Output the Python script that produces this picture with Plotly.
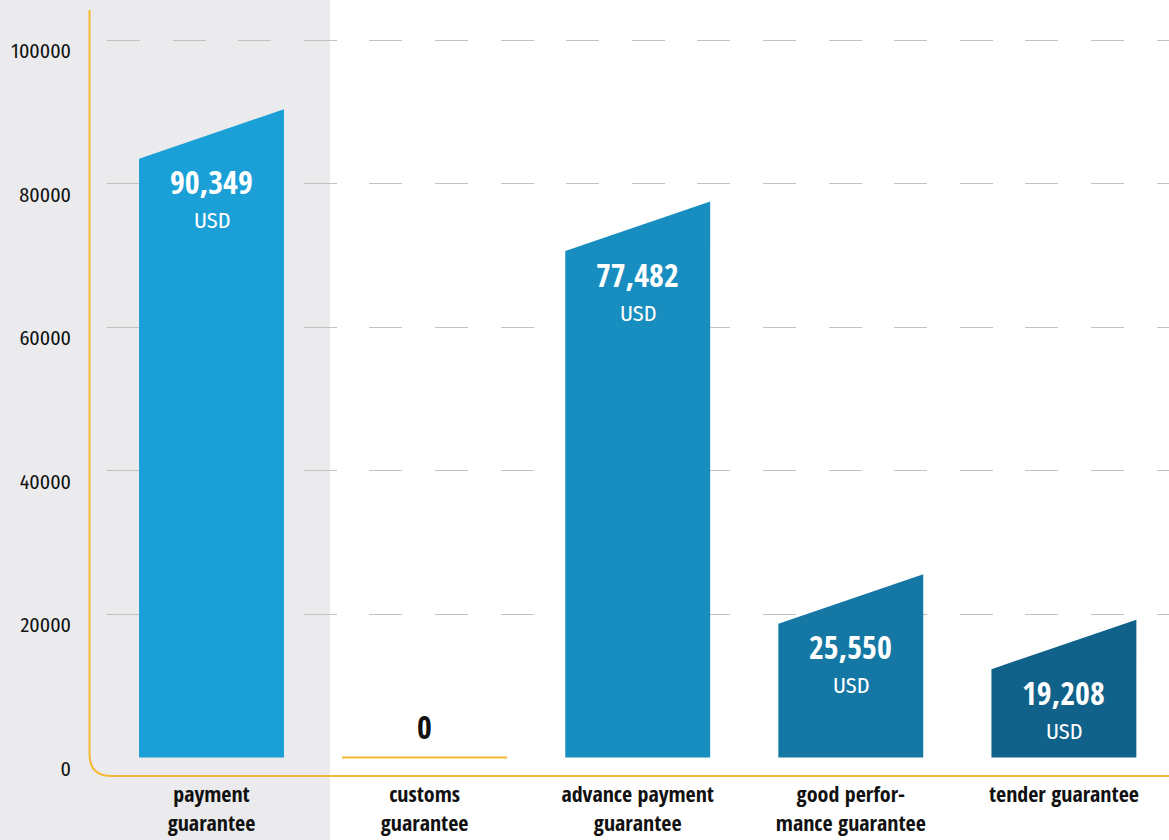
import plotly.graph_objects as go

# ---- data ----
categories = ["payment<br>guarantee", "customs<br>guarantee", "advance payment<br>guarantee",
              "good perfor-<br>mance guarantee", "tender guarantee"]
values = [90349, 0, 77482, 25550, 19208]
value_labels = ["90,349", "0", "77,482", "25,550", "19,208"]
bar_colors = ["#1a9fd6", "#e8b13a", "#188ec0", "#1578a4", "#10628a"]
y_ticks = [0, 20000, 40000, 60000, 80000, 100000]
y_ticktext = ["0", "20000", "40000", "60000", "80000", "100000"]

# ---- layout geometry ----
W, H = 1169, 840
ML, MR, MT, MB = 107, 0, 10, 64
PW, PH = W - ML - MR, H - MT - MB
XR = [-0.4904, 4.4932]
YR = [-2578, 104181]
SLANT = 6900
BAR_W = 0.68
ZERO_W = 0.775
BOLD = "Open Sans Condensed, Fira Sans Condensed, Roboto Condensed, sans-serif"
REG = "Fira Sans Condensed, Roboto Condensed, Open Sans, sans-serif"
ORANGE = "#f6b733"


def px(x):
    return (x - ML) / PW


def py(y):
    return (H - MB - y) / PH


fig = go.Figure()

for i, (v, c) in enumerate(zip(values, bar_colors)):
    if v == 0:
        fig.add_trace(go.Scatter(x=[i - ZERO_W / 2, i + ZERO_W / 2], y=[v, v], mode="lines",
                                 line=dict(color=ORANGE, width=2), hoverinfo="skip", showlegend=False))
        fig.add_annotation(x=i, y=v, yref="y", xref="x", text=value_labels[i],
                           showarrow=False, yshift=31,
                           font=dict(family=BOLD, size=32, color="#111111", weight=700))
    else:
        xs = [i - BAR_W / 2, i - BAR_W / 2, i + BAR_W / 2, i + BAR_W / 2, i - BAR_W / 2]
        ys = [0, v - SLANT, v, 0, 0]
        fig.add_trace(go.Scatter(x=xs, y=ys, mode="lines", fill="toself", fillcolor=c,
                                 line=dict(width=0, color=c), hoverinfo="skip", showlegend=False))
        fig.add_annotation(x=i, y=v - SLANT, text=value_labels[i], showarrow=False,
                           yshift=-23, font=dict(family=BOLD, size=32, color="white", weight=700))
        fig.add_annotation(x=i, y=v - SLANT, text="USD", showarrow=False,
                           yshift=-62, font=dict(family=REG, size=22, color="white", weight=400))

# gray band behind first category
fig.add_shape(type="rect", xref="paper", yref="paper", x0=px(0), x1=px(330), y0=py(H), y1=py(0),
              fillcolor="#ebebed", line=dict(width=0), layer="below")

# orange axis frame with rounded corner
r = 22
xa, yb = 89.5, 776
path = (f"M {px(xa)},{py(10)} L {px(xa)},{py(yb - r)} "
        f"Q {px(xa)},{py(yb)} {px(xa + r)},{py(yb)} L {px(W)},{py(yb)}")
fig.add_shape(type="path", xref="paper", yref="paper", path=path,
              line=dict(color=ORANGE, width=2), layer="above")

fig.update_layout(
    width=W, height=H,
    margin=dict(l=ML, r=MR, t=MT, b=MB),
    paper_bgcolor="white", plot_bgcolor="rgba(0,0,0,0)",
    showlegend=False,
    font=dict(family=REG, color="#111111"),
    xaxis=dict(range=XR, tickvals=list(range(len(categories))), ticktext=categories,
               showgrid=False, zeroline=False, showline=False, ticks="",
               tickfont=dict(family=BOLD, size=22, color="#111111", weight=700),
               ticklabelstandoff=3, fixedrange=True),
    yaxis=dict(range=YR, tickvals=y_ticks, ticktext=y_ticktext, showgrid=True,
               gridcolor="#c2c2c2", gridwidth=1.3, griddash="33px,32.6px",
               zeroline=True, zerolinecolor="rgba(0,0,0,0)", showline=False, ticks="",
               ticklabelposition="outside", ticklabelshift=11, ticklabelstandoff=35,
               tickfont=dict(family=REG, size=20, color="#111111", weight=400), fixedrange=True),
)

fig.write_html("out.html", config={"displayModeBar": False},
               post_script="document.body.style.margin='0px';")
